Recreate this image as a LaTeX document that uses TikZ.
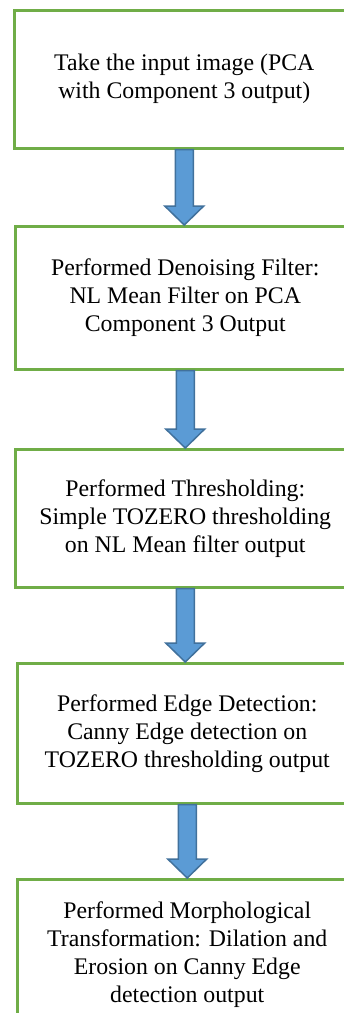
\documentclass[tikz,border=0pt]{standalone}
\usepackage{fontspec}
\setmainfont{Liberation Serif}
\usetikzlibrary{calc}
\definecolor{boxgreen}{HTML}{70AD47}
\definecolor{arrfill}{HTML}{5B9BD5}
\definecolor{arrline}{HTML}{41719C}
\tikzset{
  stepbox/.style={draw=boxgreen, line width=2.5pt, fill=white, anchor=north west,
    minimum width=340pt, align=center, inner sep=0pt,
    font=\fontsize{23.8}{28}\selectfont},
  blockarr/.style={draw=arrline, fill=arrfill, line width=1.5pt, line join=miter},
}
\newcommand\flowarrow[2]{%
  \draw[blockarr] let \p1=(#1.south), \p2=(#2.north) in
    (\x1-9pt,\y1) -- (\x1+9pt,\y1) -- (\x1+9pt,\y2+19pt) -- (\x1+19.5pt,\y2+19pt)
    -- (\x1,\y2) -- (\x1-19.5pt,\y2+19pt) -- (\x1-9pt,\y2+19pt) -- cycle;}
\begin{document}
\begin{tikzpicture}[x=1pt,y=-1pt]
\useasboundingbox (0,0) rectangle (344,1013);
\fill[white] (0,0) rectangle (344,1013);
\clip (0,0) rectangle (344,1013);
\node[stepbox, minimum height=138pt] (b1) at (13,9)
  {Take the input image (PCA\\with Component 3 output)};
\node[stepbox, minimum height=143pt] (b2) at (14,225)
  {Performed Denoising Filter:\\NL Mean Filter on PCA\\Component 3 Output};
\node[stepbox, minimum height=138pt] (b3) at (14,448)
  {Performed Thresholding:\\Simple TOZERO thresholding\\on NL Mean filter output};
\node[stepbox, minimum height=140pt] (b4) at (16,662)
  {Performed Edge Detection:\\Canny Edge detection on\\TOZERO thresholding output};
\node[stepbox, minimum height=150pt] (b5) at (16,878)
  {Performed Morphological\\Transformation: Dilation and\\Erosion on Canny Edge\\detection output};
\flowarrow{b1}{b2}
\flowarrow{b2}{b3}
\flowarrow{b3}{b4}
\flowarrow{b4}{b5}
\end{tikzpicture}
\end{document}
